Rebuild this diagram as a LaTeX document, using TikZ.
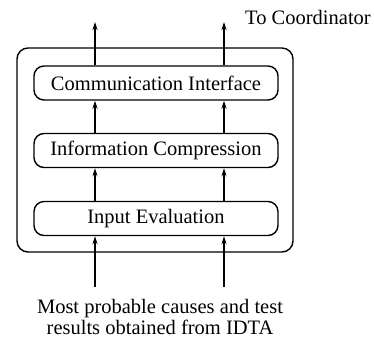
\documentclass[tikz,border=0pt]{standalone}
\usepackage{fontspec}
\setmainfont{Liberation Serif}
\usetikzlibrary{arrows.meta,positioning}

\begin{document}
\begin{tikzpicture}[x=1pt,y=-1pt,>={Stealth[length=8pt,width=5pt]},
   font=\fontsize{20.5}{22}\selectfont,line width=1.4pt,
   stage/.style={draw,rounded corners=10pt,minimum width=244pt,minimum height=34pt,
                 inner sep=0pt}]
  \useasboundingbox (0,0) rectangle (374,341);
  \node[draw,rounded corners=11pt,minimum width=276pt,minimum height=204pt] (frame) at (155,150) {};
  \node[stage] (ci) at (156,83)    {Communication Interface};
  \node[stage] (ic) at (156,150.5) {Information Compression};
  \node[stage] (ie) at (156,218.5) {Input Evaluation};
  \node (coord) at (308,17) {To Coordinator};
  \node[align=center,text height=13pt] (src) at (160,328)
     {Most probable causes and test\\[-1pt] results obtained from IDTA};
  % arrow ends
  \coordinate (tl) at (95,22);
  \coordinate (tr) at (224,22);
  \coordinate (bl) at (95,287);
  \coordinate (br) at (224,287);
  \foreach \c in {tl,tr}{
    \draw[->] (ci.north -| \c) -- (\c);
    \draw[->] (ic.north -| \c) -- (ci.south -| \c);
    \draw[->] (ie.north -| \c) -- (ic.south -| \c);
  }
  \foreach \c in {bl,br}
    \draw[->] (\c) -- (ie.south -| \c);
\end{tikzpicture}
\end{document}
